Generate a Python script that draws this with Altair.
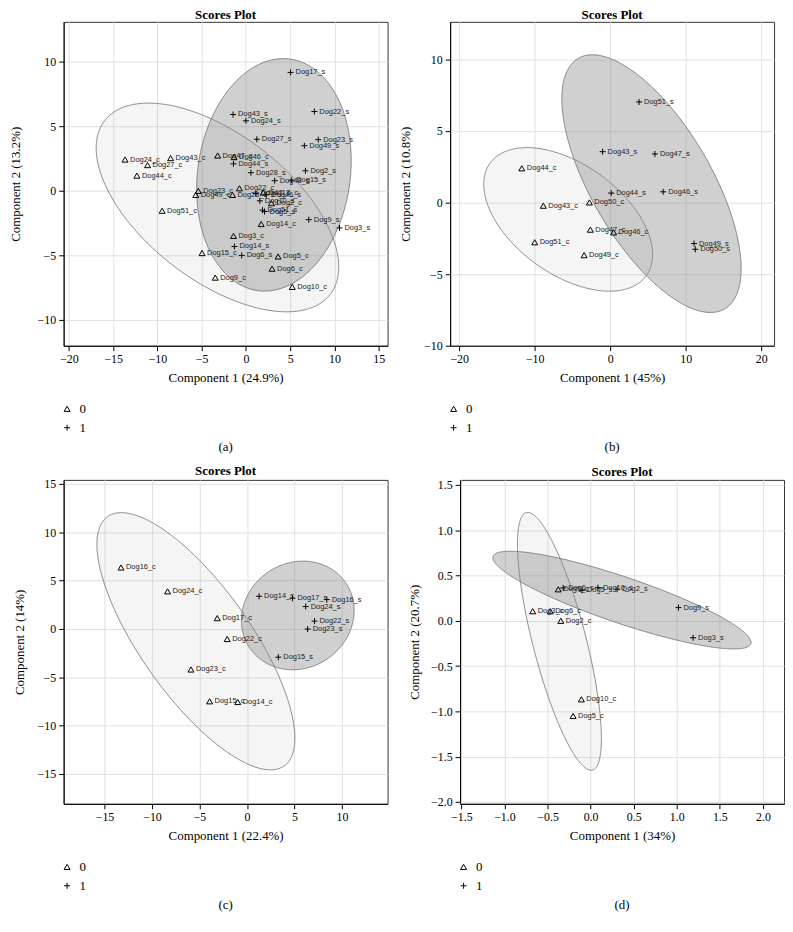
import numpy as np
import pandas as pd
import altair as alt

SERIF = "Liberation Serif"
SANS = "Liberation Sans"
PLUS = "M-1,0L1,0M0,-1L0,1"
TRI = "triangle-up"
W = 326
H = 326
CHI = float(np.sqrt(5.991464547))  # 95% confidence ellipse, 2 dof

# ---------------- panel (a) ----------------
A_LABELS = ["Dog17_s", "Dog22_s", "Dog43_s", "Dog24_s", "Dog27_s", "Dog23_s", "Dog49_s",
            "Dog44_s", "Dog28_s", "Dog2_s", "Dog48_s", "Dog15_s", "Dog9_s", "Dog3_s",
            "Dog14_s", "Dog6_s", "Dog10_s", "Dog51_s", "Dog5_s", "Dog47_s", "Dog46_s",
            "Dog24_c", "Dog27_c", "Dog43_c", "Dog44_c", "Dog47_c", "Dog46_c", "Dog23_c",
            "Dog49_c", "Dog22_c", "Dog28_c", "Dog17_c", "Dog2_c", "Dog51_c", "Dog14_c",
            "Dog3_c", "Dog15_c", "Dog5_c", "Dog6_c", "Dog9_c", "Dog10_c"]
A_X = [5.04, 7.73, -1.46, 0.0, 1.23, 8.17, 6.6, -1.41, 0.56, 6.72, 3.25, 5.12, 7.1, 10.57,
       -1.3, -0.48, 1.57, 1.87, 2.1, 1.1, 2.3,
       -13.66, -11.12, -8.51, -12.32, -3.2, -1.34, -5.38, -5.67, -0.74, -1.52, 1.95, 2.88,
       -9.47, 1.72, -1.41, -4.96, 3.63, 2.95, -3.47, 5.23]
A_Y = [9.18, 6.15, 5.92, 5.43, 4.0, 3.97, 3.5, 2.1, 1.41, 1.56, 0.79, 0.82, -2.23, -2.87,
       -4.31, -5.0, -0.77, -1.49, -1.6, -0.2, -0.3,
       2.43, 2.0, 2.54, 1.18, 2.74, 2.62, 0.0, -0.31, 0.2, -0.31, -0.13, -0.95,
       -1.54, -2.57, -3.49, -4.82, -5.08, -6.03, -6.72, -7.44]
A_GROUP = [1] * 21 + [0] * 20

# ---------------- panel (b) ----------------
B_LABELS = ["Dog51_s", "Dog43_s", "Dog47_s", "Dog44_s", "Dog46_s", "Dog49_s", "Dog50_s",
            "Dog44_c", "Dog43_c", "Dog50_c", "Dog47_c", "Dog46_c", "Dog51_c", "Dog49_c"]
B_X = [3.82, -1.01, 5.92, 0.13, 7.02, 11.1, 11.27,
       -11.71, -8.86, -2.76, -2.63, 0.44, -10.0, -3.46]
B_Y = [7.01, 3.54, 3.38, 0.65, 0.74, -2.87, -3.27,
       2.38, -0.23, 0.0, -1.9, -2.09, -2.78, -3.68]
B_GROUP = [1] * 7 + [0] * 7

# ---------------- panel (c) ----------------
C_LABELS = ["Dog16_c", "Dog24_c", "Dog17_c", "Dog22_c", "Dog23_c", "Dog15_c", "Dog14_c",
            "Dog14_s", "Dog17_s", "Dog16_s", "Dog24_s", "Dog22_s", "Dog23_s", "Dog15_s"]
C_X = [-13.26, -8.36, -3.13, -2.08, -5.9, -3.93, -0.97,
       1.28, 4.79, 8.4, 6.18, 7.11, 6.39, 3.3]
C_Y = [6.34, 3.87, 1.1, -1.06, -4.21, -7.5, -7.57,
       3.36, 3.16, 3.02, 2.3, 0.79, -0.03, -2.94]
C_GROUP = [0] * 7 + [1] * 7

# ---------------- panel (d) ----------------
D_LABELS = ["Dog9_s", "Dog3_s", "Dog6_s", "Dog5_s", "Dog10_s", "Dog2_s",
            "Dog10_c", "Dog5_c", "Dog2_c", "Dog3_c", "Dog6_c", "Dog9_c"]
D_X = [1.02, 1.19, -0.318, -0.1, 0.085, 0.308,
       -0.107, -0.203, -0.346, -0.672, -0.468, -0.376]
D_Y = [0.146, -0.187, 0.363, 0.337, 0.367, 0.348,
       -0.867, -1.05, 0.0, 0.106, 0.106, 0.348]
D_GROUP = [1] * 6 + [0] * 6


def ellipse_df(xs, ys, n=241):
    P = np.column_stack([xs, ys])
    m = P.mean(axis=0)
    S = np.cov(P.T)
    Si = np.linalg.inv(S)
    a, b, c = Si[0, 0], Si[0, 1], Si[1, 1]
    hx = CHI * np.sqrt(S[0, 0])
    phi = np.linspace(np.pi, 0, n)
    dx = hx * np.cos(phi)
    disc = np.clip(b * b * dx * dx - c * (a * dx * dx - CHI ** 2), 0, None)
    y1 = (-b * dx + np.sqrt(disc)) / c + m[1]
    y2 = (-b * dx - np.sqrt(disc)) / c + m[1]
    return pd.DataFrame({"ex": dx + m[0], "ey": y1, "ey2": y2})


def panel(labels, xs, ys, groups, xdom, ydom, xticks, yticks, xtitle, ytitle,
          caption, fmt, ytp):
    df = pd.DataFrame({"label": labels, "x": xs, "y": ys,
                       "grp": [str(g) for g in groups]})
    xsc = alt.Scale(domain=xdom, nice=False, zero=False)
    ysc = alt.Scale(domain=ydom, nice=False, zero=False)
    xax = alt.Axis(values=xticks, format=fmt, title=xtitle, labelFlush=False,
                   titlePadding=7)
    yax = alt.Axis(values=yticks, format=fmt, title=ytitle, labelFlush=False,
                   titlePadding=ytp)
    layers = []
    for g, fill, op in [("0", "#9a9a9a", 0.1), ("1", "#8a8a8a", 0.4)]:
        sub = df[df.grp == g]
        e = ellipse_df(sub.x.values, sub.y.values)
        layers.append(
            alt.Chart(e).mark_area(clip=True, fill=fill, fillOpacity=op,
                                   stroke="#6e6e6e", strokeWidth=0.8)
            .encode(x=alt.X("ex:Q", scale=xsc, axis=xax),
                    y=alt.Y("ey:Q", scale=ysc, axis=yax),
                    y2="ey2:Q")
        )
    pts = alt.Chart(df).mark_point(filled=False, color="black", size=36,
                                   strokeWidth=1, opacity=1).encode(
        x=alt.X("x:Q", scale=xsc, axis=xax),
        y=alt.Y("y:Q", scale=ysc, axis=yax),
        shape=alt.Shape("grp:N", scale=alt.Scale(domain=["0", "1"], range=[TRI, PLUS]),
                        legend=alt.Legend(title=None, orient="none", legendX=-3,
                                          legendY=H + 57, labelFont=SERIF,
                                          labelFontSize=13, symbolSize=36,
                                          symbolStrokeColor="black",
                                          symbolStrokeWidth=1, rowPadding=5,
                                          labelOffset=6, padding=0)),
    )
    txt = alt.Chart(df).mark_text(align="left", baseline="middle", dx=5, font=SANS,
                                  fontSize=7.5, color="#222").encode(
        x=alt.X("x:Q", scale=xsc, axis=xax),
        y=alt.Y("y:Q", scale=ysc, axis=yax),
        text="label:N",
    )
    cap = alt.Chart(pd.DataFrame({"t": [caption]})).mark_text(
        font=SERIF, fontSize=13, color="black").encode(
        text="t:N", x=alt.value(W / 2), y=alt.value(H + 102))
    return alt.layer(*layers, pts, txt, cap).properties(
        width=W, height=H,
        title=alt.Title("Scores Plot", font=SERIF, fontSize=13, fontWeight="bold",
                        offset=0, color="black"))


pa = panel(A_LABELS, A_X, A_Y, A_GROUP, [-20.6, 16.0], [-12.0, 13.1],
           [-20, -15, -10, -5, 0, 5, 10, 15], [-10, -5, 0, 5, 10],
           "Component 1 (24.9%)", "Component 2 (13.2%)", "(a)", "d", 15)
pb = panel(B_LABELS, B_X, B_Y, B_GROUP, [-21.2, 21.7], [-10.0, 12.6],
           [-20, -10, 0, 10, 20], [-10, -5, 0, 5, 10],
           "Component 1 (45%)", "Component 2 (10.8%)", "(b)", "d", 11)
pc = panel(C_LABELS, C_X, C_Y, C_GROUP, [-19.3, 14.8], [-18.1, 15.4],
           [-15, -10, -5, 0, 5, 10], [-15, -10, -5, 0, 5, 10, 15],
           "Component 1 (22.4%)", "Component 2 (14%)", "(c)", "d", 11)
pd_ = panel(D_LABELS, D_X, D_Y, D_GROUP, [-1.515, 2.245], [-2.02, 1.556],
            [-1.5, -1.0, -0.5, 0.0, 0.5, 1.0, 1.5, 2.0],
            [-2.0, -1.5, -1.0, -0.5, 0.0, 0.5, 1.0, 1.5],
            "Component 1 (34%)", "Component 2 (20.7%)", "(d)", ".1f", 9)

row1 = alt.hconcat(pa, pb, spacing=10).resolve_scale(shape="independent").resolve_legend(shape="independent")
row2 = alt.hconcat(pc, pd_, spacing=19).resolve_scale(shape="independent").resolve_legend(shape="independent")

chart = alt.vconcat(row1, row2, spacing=9).resolve_scale(
    shape="independent").resolve_legend(shape="independent").properties(
    padding={"left": 0, "top": -3, "right": 0, "bottom": 0}
).configure_view(stroke="#333", strokeWidth=1).configure_axis(
    domainColor="black", tickColor="black", tickSize=5, labelPadding=3,
    labelFont=SERIF, labelFontSize=12, labelColor="black",
    titleFont=SERIF, titleFontSize=13, titleFontWeight="normal", titleColor="black",
    gridColor="#e0e0e0", gridWidth=1,
)

chart.save("out.html", embed_options={"renderer": "svg", "actions": False})
